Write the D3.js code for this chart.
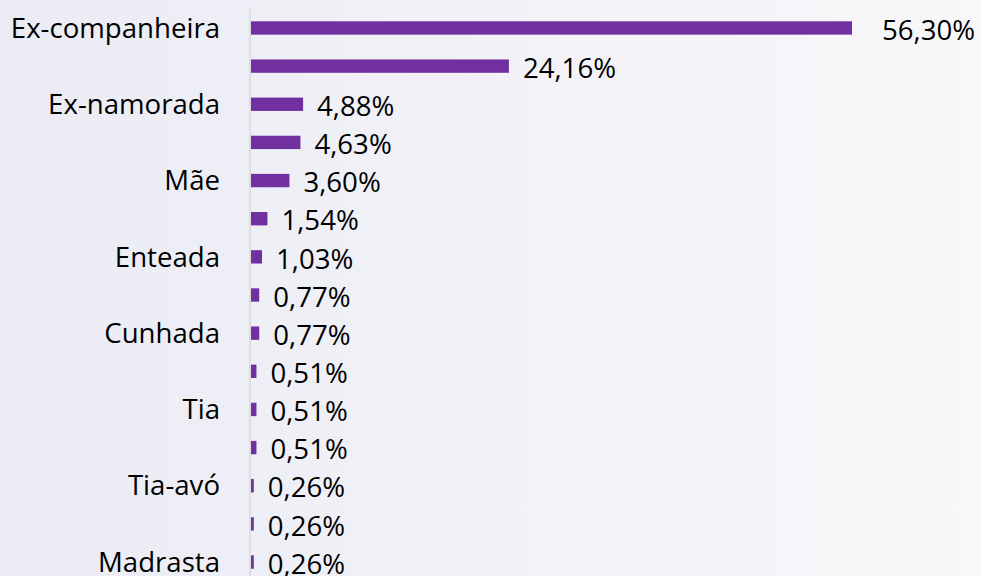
<!DOCTYPE html>
<html><head><meta charset="utf-8">
<script src="https://cdn.jsdelivr.net/npm/d3@7"></script>
<style>html,body{margin:0;padding:0;overflow:hidden;}</style>
</head><body>
<svg id="c" width="981" height="576"></svg>
<script>
const categories = ["Ex-companheira","","Ex-namorada","","Mãe","","Enteada","","Cunhada","","Tia","","Tia-avó","","Madrasta"];
const values = [56.30,24.16,4.88,4.63,3.60,1.54,1.03,0.77,0.77,0.51,0.51,0.51,0.26,0.26,0.26];
const valueLabels = ["56,30%","24,16%","4,88%","4,63%","3,60%","1,54%","1,03%","0,77%","0,77%","0,51%","0,51%","0,51%","0,26%","0,26%","0,26%"];

const W = 981, H = 576;
const svg = d3.select("#c");
const defs = svg.append("defs");
const g = defs.append("linearGradient").attr("id","bg").attr("x1","0").attr("x2","1").attr("y1","0").attr("y2","0");
g.append("stop").attr("offset","0").attr("stop-color","#ebebf5");
g.append("stop").attr("offset","1").attr("stop-color","#f8f8fa");
svg.append("rect").attr("width",W).attr("height",H).attr("fill","url(#bg)");

const idx = d3.range(values.length);
const x = d3.scaleLinear().domain([0, 56.30]).range([251, 852]);
const y = d3.scaleBand().domain(idx).range([8.9, 581.1]).paddingInner(0.65).paddingOuter(0.325);

const font = "'Open Sans', sans-serif";
const fs = 27.6;

svg.append("line").attr("x1",250).attr("x2",250).attr("y1",9).attr("y2",H)
  .attr("stroke","#d9d9d9").attr("stroke-width",1.5);

svg.selectAll("rect.bar").data(idx).enter().append("rect").attr("class","bar")
  .attr("x", x(0)).attr("y", d => y(d)).attr("width", d => x(values[d]) - x(0)).attr("height", y.bandwidth())
  .attr("fill","#7030a0");

const yAxis = d3.axisLeft(y).tickSize(0).tickPadding(0).tickFormat(d => categories[d]);
const ax = svg.append("g").attr("transform","translate(220,0)").call(yAxis);
ax.select(".domain").remove();
ax.selectAll("text").attr("font-family",font).attr("font-size",fs).attr("fill","#000").attr("dy","0.35em");

svg.selectAll("text.val").data(idx).enter().append("text").attr("class","val")
  .attr("x", d => x(values[d]) + (d === 0 ? 30 : 14))
  .attr("y", d => y(d) + y.bandwidth()/2 + 2)
  .attr("dy","0.35em")
  .attr("font-family",font).attr("font-size",fs).attr("fill","#000")
  .text(d => valueLabels[d]);
</script>
</body></html>
